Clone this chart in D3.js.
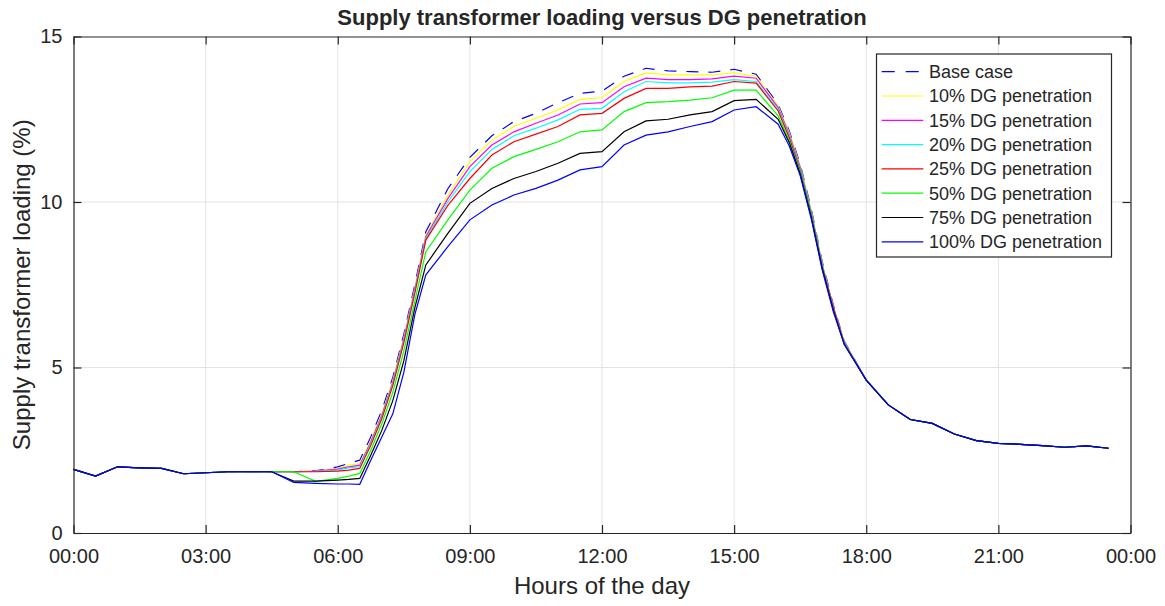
<!DOCTYPE html>
<html>
<head>
<meta charset="utf-8">
<script src="https://cdn.jsdelivr.net/npm/d3@7"></script>
<style>
  html, body { margin: 0; padding: 0; background: #ffffff; }
  svg { display: block; }
  text { font-family: "Liberation Sans", Arial, Helvetica, sans-serif; fill: #262626; }
</style>
</head>
<body>
<svg id="chart" width="1165" height="606"></svg>
<script>
// ---------------- DATA ----------------
const hours = [0,0.5,1,1.5,2,2.5,3,3.5,4,4.5,5,5.5,6,6.25,6.5,6.75,7,7.25,7.5,7.75,8,
  8.5,9,9.5,10,10.5,11,11.5,12,12.5,13,13.5,14,14.5,15,15.5,16,
  16.25,16.5,16.75,17,17.25,17.5,18,18.5,19,19.5,20,20.5,21,21.5,22,22.5,23,23.5];

const baseCase = [1.92,1.72,2.0,1.97,1.95,1.79,1.82,1.85,1.85,1.85,
  1.85,1.88,2.0,2.1,2.2,2.9,3.7,4.7,6.0,7.5,9.1,
  10.4,11.35,12.0,12.43,12.68,13.0,13.28,13.35,13.8,14.04,13.96,13.94,13.92,14.01,13.86,12.95,
  12.15,11.15,9.8,8.2,6.9,5.8,
  4.62,3.87,3.43,3.31,2.99,2.79,2.71,2.68,2.64,2.59,2.63,2.56];
const dg10 = [1.92,1.72,2.0,1.97,1.95,1.79,1.82,1.85,1.85,1.85,
  1.85,1.87,1.95,2.05,2.1,2.8,3.6,4.6,5.9,7.4,9.0,
  10.2,11.22,11.87,12.28,12.53,12.78,13.1,13.15,13.64,13.9,13.84,13.84,13.84,13.9,13.8,12.9,
  12.1,11.1,9.75,8.15,6.85,5.78,
  4.62,3.87,3.43,3.31,2.99,2.79,2.71,2.68,2.64,2.59,2.63,2.56];
const dg15 = [1.92,1.72,2.0,1.97,1.95,1.79,1.82,1.85,1.85,1.85,
  1.85,1.87,1.93,2.0,2.05,2.75,3.55,4.55,5.85,7.35,8.95,
  10.1,11.07,11.72,12.12,12.38,12.63,12.96,13.0,13.48,13.74,13.7,13.7,13.72,13.8,13.74,12.85,
  12.05,11.05,9.7,8.1,6.85,5.76,
  4.62,3.87,3.43,3.31,2.99,2.79,2.71,2.68,2.64,2.59,2.63,2.56];
const dg20 = [1.92,1.72,2.0,1.97,1.95,1.79,1.82,1.85,1.85,1.85,
  1.85,1.86,1.9,1.97,2.0,2.7,3.5,4.5,5.8,7.3,8.9,
  10.0,10.92,11.59,12.0,12.23,12.48,12.8,12.83,13.33,13.64,13.6,13.6,13.62,13.7,13.64,12.8,
  12.0,11.0,9.7,8.1,6.8,5.75,
  4.62,3.87,3.43,3.31,2.99,2.79,2.71,2.68,2.64,2.59,2.63,2.56];
const dg25 = [1.92,1.72,2.0,1.97,1.95,1.79,1.82,1.85,1.85,1.85,
  1.85,1.85,1.87,1.9,1.95,2.65,3.45,4.45,5.75,7.25,8.85,
  9.9,10.71,11.42,11.82,12.05,12.28,12.63,12.68,13.13,13.43,13.43,13.48,13.5,13.64,13.59,12.75,
  11.95,10.95,9.65,8.05,6.8,5.74,
  4.62,3.87,3.43,3.31,2.99,2.79,2.71,2.68,2.64,2.59,2.63,2.56];
const dg50 = [1.92,1.72,2.0,1.97,1.95,1.79,1.82,1.85,1.85,1.85,
  1.85,1.56,1.65,1.72,1.8,2.5,3.3,4.25,5.5,7.0,8.5,
  9.46,10.36,11.02,11.37,11.59,11.82,12.12,12.18,12.73,13.0,13.03,13.08,13.15,13.38,13.38,12.6,
  11.85,10.9,9.6,8.0,6.75,5.72,
  4.62,3.87,3.43,3.31,2.99,2.79,2.71,2.68,2.64,2.59,2.63,2.56];
const dg75 = [1.92,1.72,2.0,1.97,1.95,1.79,1.82,1.85,1.85,1.85,
  1.57,1.57,1.6,1.62,1.65,2.35,3.1,4.0,5.2,6.8,8.1,
  9.05,9.96,10.41,10.71,10.92,11.17,11.47,11.52,12.12,12.45,12.5,12.63,12.73,13.06,13.1,12.5,
  11.8,10.85,9.55,8.0,6.75,5.7,
  4.62,3.87,3.43,3.31,2.99,2.79,2.71,2.68,2.64,2.59,2.63,2.56];
const dg100 = [1.92,1.72,2.0,1.97,1.95,1.79,1.82,1.85,1.85,1.85,
  1.53,1.5,1.48,1.48,1.47,2.2,2.9,3.6,4.85,6.6,7.8,
  8.65,9.46,9.91,10.21,10.41,10.66,10.97,11.07,11.72,12.02,12.12,12.28,12.43,12.78,12.88,12.35,
  11.7,10.8,9.5,7.95,6.7,5.7,
  4.62,3.87,3.43,3.31,2.99,2.79,2.71,2.68,2.64,2.59,2.63,2.56];

const seriesNames = ["Base case","10% DG penetration","15% DG penetration","20% DG penetration",
  "25% DG penetration","50% DG penetration","75% DG penetration","100% DG penetration"];
const seriesValues = [baseCase, dg10, dg15, dg20, dg25, dg50, dg75, dg100];
const seriesColors = ["#0000ff","#ffff00","#ff00ff","#00ffff","#ff0000","#00ff00","#000000","#0000ff"];
const seriesDashed = [true,false,false,false,false,false,false,false];

const xTicks = [0,3,6,9,12,15,18,21,24];
const xTickLabels = ["00:00","03:00","06:00","09:00","12:00","15:00","18:00","21:00","00:00"];
const yTicks = [0,5,10,15];
const yTickLabels = ["0","5","10","15"];

const titleText = "Supply transformer loading versus DG penetration";
const xLabelText = "Hours of the day";
const yLabelText = "Supply transformer loading (%)";

// ---------------- LAYOUT ----------------
const L = 73.5, R = 1130.5, T = 36.5, B = 533;
const axisColor = "#262626";
const gridColor = "#e3e3e3";

const svg = d3.select("#chart");
const x = d3.scaleLinear().domain([0, 24]).range([L, R]);
const y = d3.scaleLinear().domain([0, 15]).range([B, T]);

// grid
const grid = svg.append("g");
grid.selectAll("line.gx").data(xTicks.slice(1, -1)).join("line")
  .attr("x1", d => x(d)).attr("x2", d => x(d)).attr("y1", T).attr("y2", B)
  .attr("stroke", gridColor).attr("stroke-width", 1);
grid.selectAll("line.gy").data(yTicks.slice(1, -1)).join("line")
  .attr("x1", L).attr("x2", R).attr("y1", d => y(d)).attr("y2", d => y(d))
  .attr("stroke", gridColor).attr("stroke-width", 1);

// lines
const line = d3.line().x((d, i) => x(hours[i])).y(d => y(d));
const linesG = svg.append("g");
seriesValues.forEach((vals, k) => {
  linesG.append("path")
    .datum(vals)
    .attr("d", line)
    .attr("fill", "none")
    .attr("stroke", seriesColors[k])
    .attr("stroke-width", 1.2)
    .attr("stroke-dasharray", seriesDashed[k] ? "12,10" : null);
});

// axes
function styleAxis(g) {
  g.select(".domain").attr("stroke", axisColor).attr("stroke-width", 1.2);
  g.selectAll(".tick line").attr("stroke", axisColor).attr("stroke-width", 1.2);
  g.selectAll(".tick text").attr("fill", axisColor).style("font-size", "20px")
    .style("font-family", "'Liberation Sans', Arial, Helvetica, sans-serif");
}
const xAxis = d3.axisBottom(x).tickValues(xTicks)
  .tickFormat((d, i) => xTickLabels[i]).tickSizeInner(-8).tickSizeOuter(0).tickPadding(16);
svg.append("g").attr("transform", `translate(0,${B})`).call(xAxis).call(styleAxis);

const xAxisTop = d3.axisTop(x).tickValues(xTicks).tickFormat("").tickSizeInner(-8).tickSizeOuter(0);
svg.append("g").attr("transform", `translate(0,${T})`).call(xAxisTop).call(styleAxis);

const yAxis = d3.axisLeft(y).tickValues(yTicks)
  .tickFormat((d, i) => yTickLabels[i]).tickSizeInner(-8).tickSizeOuter(0).tickPadding(11);
svg.append("g").attr("transform", `translate(${L},0)`).call(yAxis).call(styleAxis);

const yAxisRight = d3.axisRight(y).tickValues(yTicks).tickFormat("").tickSizeInner(-8).tickSizeOuter(0);
svg.append("g").attr("transform", `translate(${R},0)`).call(yAxisRight).call(styleAxis);

// title and labels
svg.append("text").attr("x", (L + R) / 2).attr("y", 25)
  .attr("text-anchor", "middle").style("font-size", "22px").style("font-weight", "bold")
  .attr("fill", "#000").text(titleText);
svg.append("text").attr("x", (L + R) / 2).attr("y", 594)
  .attr("text-anchor", "middle").style("font-size", "24px").text(xLabelText);
svg.append("text").attr("transform", `translate(30,${(T + B) / 2}) rotate(-90)`)
  .attr("text-anchor", "middle").style("font-size", "24px").text(yLabelText);

// legend
const lgX = 876.5, lgY = 54, lgW = 235, lgH = 203, rowH = 24.3, row0 = 71.7;
const lg = svg.append("g");
lg.append("rect").attr("x", lgX).attr("y", lgY).attr("width", lgW).attr("height", lgH)
  .attr("fill", "#fff").attr("stroke", axisColor).attr("stroke-width", 1.2);
seriesNames.forEach((name, k) => {
  const cy = row0 + k * rowH;
  lg.append("line").attr("x1", 881.7).attr("x2", 923.3).attr("y1", cy).attr("y2", cy)
    .attr("stroke", seriesColors[k]).attr("stroke-width", 1.2)
    .attr("stroke-dasharray", seriesDashed[k] ? "13,11" : null);
  lg.append("text").attr("x", 929).attr("y", cy).attr("dy", "0.35em")
    .style("font-size", "18px").text(name);
});
</script>
</body>
</html>
